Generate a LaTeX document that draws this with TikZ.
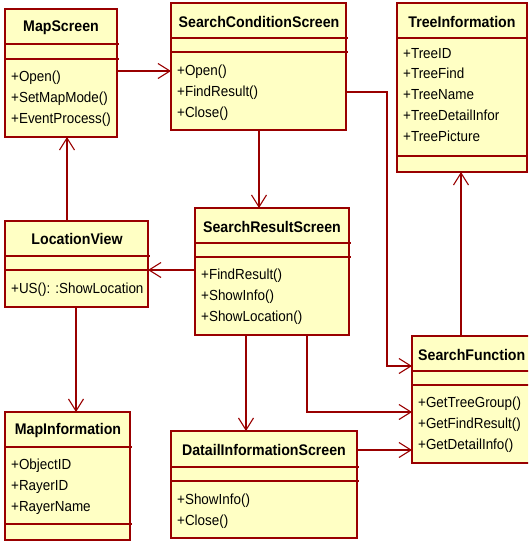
\documentclass[tikz,border=0pt]{standalone}
\usepackage{fontspec}
\setmainfont[FakeStretch=0.92]{Liberation Sans}
\usetikzlibrary{arrows.meta}
\definecolor{umlfill}{HTML}{FFFFC4}
\definecolor{umlline}{HTML}{990000}
\tikzset{
  cls/.style={draw=umlline, fill=umlfill, line width=1.3pt, anchor=north west, inner sep=0pt, outer sep=0pt},
  divline/.style={draw=umlline, line width=1.3pt},
  ttl/.style={font=\fontsize{15.4}{17}\selectfont\bfseries, inner sep=0pt, anchor=center},
  mem/.style={font=\fontsize{14.6}{20.7}\selectfont, inner sep=0pt, anchor=north west, align=left},
  conn/.style={draw=umlline, line width=1.1pt, -{Straight Barb[length=12pt,width=15pt,line width=1.1pt]}},
}
\begin{document}
\begin{tikzpicture}[x=1pt,y=-1pt]
\useasboundingbox (0,0) rectangle (528,541);
\clip (0,0) rectangle (528,541);
% MapScreen
\node[cls, minimum width=112pt, minimum height=128pt] (ms) at (5,9) {};
\draw[divline] (5,44) -- (119,44) (5,59) -- (119,59);
\node[ttl] (mst) at (61,28) {MapScreen};
\node[mem] (msm) at (11,71) {+Open()\\+SetMapMode()\\+EventProcess()};
% SearchConditionScreen
\node[cls, minimum width=175pt, minimum height=127pt] (scs) at (171,3) {};
\draw[divline] (171,38) -- (348,38) (171,52) -- (348,52);
\node[ttl] (scst) at (259,22) {SearchConditionScreen};
\node[mem] (scsm) at (177,65) {+Open()\\+FindResult()\\+Close()};
% TreeInformation
\node[cls, minimum width=130pt, minimum height=169pt] (ti) at (397,3) {};
\draw[divline] (397,38) -- (528,38) (397,156) -- (528,156);
\node[ttl] (tit) at (462,22) {TreeInformation};
\node[mem] (tim) at (403,48) {+TreeID\\+TreeFind\\+TreeName\\+TreeDetailInfor\\+TreePicture};
% LocationView
\node[cls, minimum width=143pt, minimum height=86pt] (lv) at (5,221) {};
\draw[divline] (5,256) -- (150,256) (5,270) -- (150,270);
\node[ttl] (lvt) at (77,239) {LocationView};
\node[mem] (lvm) at (11,283) {+US(): :ShowLocation};
% SearchResultScreen
\node[cls, minimum width=154pt, minimum height=127pt] (srs) at (195,208) {};
\draw[divline] (195,243) -- (351,243) (195,257) -- (351,257);
\node[ttl] (srst) at (272,227) {SearchResultScreen};
\node[mem] (srsm) at (201,269) {+FindResult()\\+ShowInfo()\\+ShowLocation()};
% SearchFunction
\node[cls, minimum width=125pt, minimum height=127pt] (sf) at (412,336) {};
\draw[divline] (412,371) -- (540,371) (412,385) -- (540,385);
\node[ttl, anchor=west] (sft) at (418,355) {SearchFunction};
\node[mem] (sfm) at (418,397) {+GetTreeGroup()\\+GetFindResult()\\+GetDetailInfo()};
% MapInformation
\node[cls, minimum width=125pt, minimum height=128pt] (mi) at (5,412) {};
\draw[divline] (5,447) -- (132,447) (5,524) -- (132,524);
\node[ttl] (mit) at (68,431) {MapInformation};
\node[mem] (mim) at (11,459) {+ObjectID\\+RayerID\\+RayerName};
% DatailInformationScreen
\node[cls, minimum width=186pt, minimum height=107pt] (dis) at (171,431) {};
\draw[divline] (171,467) -- (359,467) (171,481) -- (359,481);
\node[ttl] (dist) at (264,450) {DatailInformationScreen};
\node[mem] (dism) at (177,494) {+ShowInfo()\\+Close()};
% connectors
\draw[conn] ([yshift=-62pt]ms.north east) -- ([yshift=-68pt]scs.north west);
\draw[conn] ([xshift=62pt]lv.north west) -- ([xshift=62pt]ms.south west);
\draw[conn] ([xshift=88pt]scs.south west) -- ([xshift=64pt]srs.north west);
\coordinate (c1) at (387,92);
\coordinate (c2) at (387,366);
\draw[conn] ([yshift=-89pt]scs.north east) -- (c1) -- (c2) -- ([yshift=-30pt]sf.north west);
\draw[conn] ([xshift=49pt]sf.north west) -- ([xshift=64pt]ti.south west);
\draw[conn] ([yshift=-62pt]srs.north west) -- ([yshift=-49pt]lv.north east);
\draw[conn] ([xshift=71pt]lv.south west) -- ([xshift=71pt]mi.north west);
\draw[conn] ([xshift=51pt]srs.south west) -- ([xshift=75pt]dis.north west);
\coordinate (c3) at (307,412);
\draw[conn] ([xshift=112pt]srs.south west) -- (c3) -- ([yshift=-76pt]sf.north west);
\draw[conn] ([yshift=-19pt]dis.north east) -- ([yshift=-114pt]sf.north west);
\end{tikzpicture}
\end{document}
